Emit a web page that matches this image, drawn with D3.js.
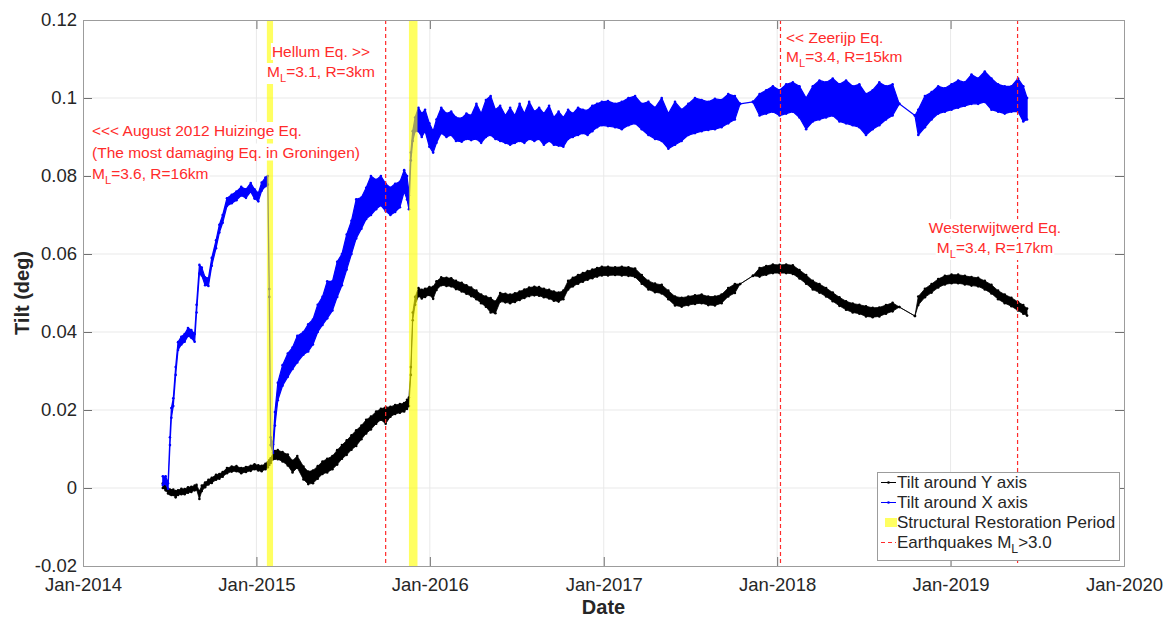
<!DOCTYPE html>
<html>
<head>
<meta charset="utf-8">
<script src="https://cdn.jsdelivr.net/npm/d3@7"></script>
<style>
  body { margin: 0; background: #fff; }
  svg { font-family: "Liberation Sans", Arial, Helvetica, sans-serif; }
</style>
</head>
<body>
<div id="chart"></div>
<script>
// ---- data (tilt in degrees) ----
// the sensor signal is noisy, so each sample keeps the low and high edge of the band
const sampleDates = [
  '2014-06-18','2014-06-24','2014-06-29','2014-07-03','2014-07-06','2014-07-10','2014-07-15','2014-07-20','2014-07-27','2014-08-03',
  '2014-08-10','2014-08-17','2014-08-24','2014-08-28','2014-09-03','2014-09-08','2014-09-15','2014-09-22','2014-09-29','2014-10-08',
  '2014-10-15','2014-10-22','2014-10-31','2014-11-10','2014-11-20','2014-11-30','2014-12-10','2014-12-20','2014-12-28','2015-01-05',
  '2015-01-12','2015-01-20','2015-01-25','2015-01-28','2015-01-31','2015-02-05','2015-02-09','2015-02-15','2015-02-25','2015-03-08',
  '2015-03-18','2015-03-28','2015-04-10','2015-04-20','2015-04-30','2015-05-10','2015-05-20','2015-05-30','2015-06-10','2015-06-20',
  '2015-06-30','2015-07-10','2015-07-20','2015-07-30','2015-08-10','2015-08-20','2015-08-30','2015-09-10','2015-09-20','2015-09-30',
  '2015-10-10','2015-10-20','2015-10-30','2015-11-08','2015-11-14','2015-11-18','2015-11-22','2015-11-26','2015-12-01','2015-12-08',
  '2015-12-15','2015-12-22','2015-12-31','2016-01-08','2016-01-15','2016-01-25','2016-02-05','2016-02-15','2016-02-25','2016-03-08',
  '2016-03-18','2016-03-28','2016-04-08','2016-04-18','2016-04-28','2016-05-08','2016-05-18','2016-05-28','2016-06-08','2016-06-18',
  '2016-06-28','2016-07-08','2016-07-18','2016-07-28','2016-08-08','2016-08-18','2016-08-28','2016-09-08','2016-09-18','2016-09-28',
  '2016-10-08','2016-10-18','2016-10-28','2016-11-08','2016-11-18','2016-11-28','2016-12-08','2016-12-18','2016-12-28','2017-01-10',
  '2017-01-25','2017-02-08','2017-02-22','2017-03-08','2017-03-22','2017-04-05','2017-04-19','2017-05-03','2017-05-17','2017-05-31',
  '2017-06-14','2017-06-28','2017-07-12','2017-07-26','2017-08-09','2017-08-23','2017-09-06','2017-09-20','2017-10-04','2017-10-15',
  '2017-11-11','2017-11-25','2017-12-09','2017-12-23','2018-01-06','2018-01-20','2018-02-03','2018-02-17','2018-03-03','2018-03-17',
  '2018-03-31','2018-04-14','2018-04-28','2018-05-12','2018-05-26','2018-06-09','2018-06-23','2018-07-07','2018-07-21','2018-08-04',
  '2018-08-18','2018-09-01','2018-09-15','2018-10-18','2018-10-25','2018-11-08','2018-11-22','2018-12-06','2018-12-20','2019-01-03',
  '2019-01-17','2019-01-31','2019-02-14','2019-02-28','2019-03-14','2019-03-28','2019-04-11','2019-04-25','2019-05-09','2019-05-23',
  '2019-06-03','2019-06-11'
];

// Tilt around X axis (blue)
const tiltXHigh = [
  .0030,.0030,.0012,.0130,.0205,.0230,.0310,.0374,.0388,.0395,
  .0410,.0405,.0395,.0470,.0572,.0565,.0540,.0538,.0590,.0635,
  .0675,.0700,.0743,.0752,.0760,.0772,.0766,.0782,.0766,.0756,
  .0783,.0796,.0800,.0510,.0130,.0112,.0195,.0270,.0315,.0345,
  .0360,.0390,.0400,.0420,.0432,.0470,.0490,.0530,.0530,.0580,
  .0600,.0650,.0685,.0740,.0745,.0770,.0800,.0790,.0800,.0780,
  .0770,.0780,.0785,.0815,.0800,.0750,.0860,.0915,.0950,.0975,
  .0960,.0970,.0935,.0915,.0945,.0975,.0960,.0965,.0950,.0948,
  .0960,.0955,.0985,.0960,.0995,.1005,.0970,.0980,.0955,.0975,
  .0955,.0985,.0960,.0990,.0965,.0975,.0960,.0980,.0950,.0965,
  .0950,.0970,.0960,.0975,.0970,.0968,.0980,.0985,.0990,.0992,
  .0985,.0990,.1000,.1005,.0985,.0990,.0975,.1000,.0960,.0990,
  .0970,.0985,.1000,.0995,.0990,.0998,.0995,.1010,.1005,.0985,
  .0990,.1010,.1020,.1030,.1020,.1035,.1040,.1030,.1000,.1030,
  .1045,.1040,.1050,.1035,.1045,.1030,.1035,.1010,.1020,.1040,
  .1030,.1035,.0985,.0955,.0970,.1005,.1015,.1030,.1025,.1035,
  .1045,.1040,.1060,.1050,.1068,.1050,.1035,.1030,.1030,.1050,
  .1030,.1000
];
const tiltXLow = [
  .0008,.0010,-.0002,.0110,.0180,.0210,.0290,.0354,.0368,.0375,
  .0390,.0385,.0375,.0450,.0550,.0545,.0520,.0518,.0570,.0615,
  .0655,.0680,.0723,.0730,.0738,.0750,.0744,.0760,.0742,.0735,
  .0762,.0774,.0778,.0490,.0110,.0090,.0160,.0225,.0262,.0285,
  .0305,.0322,.0342,.0350,.0368,.0400,.0418,.0435,.0455,.0490,
  .0520,.0560,.0600,.0640,.0665,.0690,.0700,.0715,.0725,.0710,
  .0700,.0708,.0720,.0760,.0740,.0715,.0840,.0890,.0915,.0915,
  .0900,.0915,.0875,.0860,.0885,.0910,.0900,.0905,.0890,.0888,
  .0895,.0892,.0895,.0885,.0900,.0905,.0895,.0890,.0885,.0880,
  .0885,.0890,.0885,.0895,.0890,.0895,.0880,.0890,.0880,.0878,
  .0875,.0895,.0900,.0905,.0910,.0905,.0915,.0925,.0930,.0928,
  .0925,.0920,.0930,.0935,.0920,.0905,.0895,.0890,.0870,.0880,
  .0890,.0905,.0910,.0915,.0918,.0920,.0925,.0935,.0945,.0985,
  .0990,.0955,.0960,.0965,.0955,.0960,.0965,.0950,.0920,.0940,
  .0945,.0950,.0955,.0940,.0935,.0930,.0925,.0905,.0920,.0930,
  .0945,.0955,.0985,.0955,.0905,.0925,.0945,.0960,.0965,.0970,
  .0975,.0980,.0985,.0985,.0990,.0970,.0965,.0960,.0965,.0965,
  .0940,.0945
];

// Tilt around Y axis (black)
const tiltYHigh = [
  .0012,.0006,-.0002,-.0004,-.0006,-.0004,-.0008,-.0006,-.0002,-.0003,
  .0002,.0003,.0006,.0008,-.0008,.0006,.0014,.0021,.0026,.0034,
  .0036,.0041,.0051,.0055,.0056,.0051,.0054,.0057,.0061,.0058,
  .0057,.0062,.0066,.0071,.0076,.0090,.0095,.0097,.0092,.0086,
  .0070,.0082,.0055,.0042,.0045,.0056,.0068,.0075,.0082,.0097,
  .0110,.0122,.0135,.0148,.0160,.0175,.0183,.0196,.0203,.0207,
  .0208,.0213,.0215,.0218,.0226,.0232,.0310,.0450,.0490,.0513,
  .0508,.0511,.0515,.0516,.0530,.0540,.0539,.0538,.0531,.0526,
  .0520,.0514,.0506,.0496,.0491,.0487,.0478,.0500,.0498,.0496,
  .0499,.0504,.0509,.0514,.0516,.0515,.0511,.0508,.0504,.0501,
  .0506,.0531,.0539,.0546,.0551,.0556,.0560,.0564,.0567,.0567,
  .0566,.0567,.0566,.0563,.0546,.0531,.0524,.0521,.0506,.0491,
  .0488,.0491,.0494,.0496,.0491,.0491,.0496,.0513,.0523,.0523,
  .0544,.0564,.0569,.0573,.0572,.0573,.0571,.0559,.0546,.0531,
  .0523,.0513,.0501,.0489,.0479,.0473,.0470,.0466,.0462,.0463,
  .0469,.0475,.0464,.0441,.0491,.0511,.0523,.0536,.0544,.0547,
  .0547,.0544,.0541,.0539,.0531,.0521,.0506,.0496,.0488,.0477,
  .0469,.0460
];
const tiltYLow = [
  .0000,-.0006,-.0014,-.0016,-.0018,-.0018,-.0024,-.0018,-.0016,-.0016,
  -.0012,-.0010,-.0006,-.0004,-.0028,-.0008,.0002,.0009,.0013,.0021,
  .0024,.0029,.0038,.0042,.0043,.0038,.0041,.0044,.0048,.0045,
  .0043,.0048,.0053,.0059,.0064,.0074,.0075,.0074,.0068,.0058,
  .0040,.0052,.0022,.0010,.0012,.0024,.0036,.0040,.0048,.0060,
  .0075,.0085,.0098,.0108,.0125,.0140,.0150,.0165,.0175,.0165,
  .0183,.0190,.0193,.0196,.0203,.0210,.0290,.0430,.0470,.0492,
  .0486,.0490,.0495,.0485,.0508,.0520,.0518,.0517,.0510,.0504,
  .0498,.0492,.0484,.0474,.0465,.0450,.0448,.0478,.0476,.0474,
  .0477,.0482,.0487,.0492,.0494,.0493,.0489,.0486,.0480,.0478,
  .0484,.0509,.0517,.0524,.0529,.0534,.0538,.0542,.0545,.0545,
  .0546,.0545,.0544,.0541,.0524,.0509,.0502,.0499,.0484,.0468,
  .0465,.0469,.0472,.0474,.0469,.0468,.0474,.0491,.0500,.0523,
  .0544,.0542,.0547,.0551,.0551,.0551,.0549,.0537,.0524,.0509,
  .0501,.0491,.0479,.0467,.0457,.0450,.0447,.0440,.0438,.0440,
  .0447,.0453,.0464,.0441,.0469,.0489,.0501,.0514,.0522,.0525,
  .0525,.0522,.0519,.0517,.0509,.0499,.0484,.0474,.0466,.0455,
  .0447,.0442
];

const restorationStarts = ['2015-01-23', '2015-11-18'];
const restorationEnds = ['2015-02-05', '2015-12-06'];
const earthquakeDates = ['2015-09-30', '2018-01-08', '2019-05-22'];

const xTickDates = ['2014-01-01','2015-01-01','2016-01-01','2017-01-01','2018-01-01','2019-01-01','2020-01-01'];
const yTicks = [-0.02, 0, 0.02, 0.04, 0.06, 0.08, 0.1, 0.12];

const annotationTexts = [
  ['<<< August 2012 Huizinge Eq.', '(The most damaging Eq. in Groningen)', 'M_L=3.6, R=16km'],
  ['Hellum Eq. >>', 'M_L=3.1, R=3km'],
  ['<< Zeerijp Eq.', 'M_L=3.4, R=15km'],
  ['Westerwijtwerd Eq.', 'M_L=3.4, R=17km']
];
const legendLabels = ['Tilt around Y axis', 'Tilt around X axis', 'Structural Restoration Period', 'Earthquakes M_L>3.0'];

// ---- drawing ----
const width = 1168, height = 617;
const margin = {top: 20, right: 44, bottom: 51, left: 83};
const innerW = width - margin.left - margin.right;
const innerH = height - margin.top - margin.bottom;

const boxColor = '#9c9c9c', tickColor = '#707070', textColor = '#262626';
const redColor = '#ff2b2b';

const parseDate = d3.utcParse('%Y-%m-%d');
const samples = sampleDates.map((d, i) => ({
  date: parseDate(d),
  xLow: tiltXLow[i], xHigh: tiltXHigh[i],
  yLow: tiltYLow[i], yHigh: tiltYHigh[i]
}));
const xTicks = xTickDates.map(parseDate);

const svg = d3.select('#chart').append('svg')
  .attr('width', width)
  .attr('height', height);

const chart = svg.append('g')
  .attr('transform', `translate(${margin.left},${margin.top})`);

const x = d3.scaleUtc()
  .domain([xTicks[0], xTicks[xTicks.length - 1]])
  .range([0, innerW]);
const y = d3.scaleLinear()
  .domain([yTicks[0], yTicks[yTicks.length - 1]])
  .range([innerH, 0]);

// grid
chart.append('g').selectAll('line')
  .data(xTicks.slice(1, -1))
  .join('line')
  .attr('x1', d => x(d)).attr('x2', d => x(d))
  .attr('y1', 0).attr('y2', innerH)
  .attr('stroke', '#e9e9e9');
chart.append('g').selectAll('line')
  .data(yTicks.slice(1, -1))
  .join('line')
  .attr('x1', 0).attr('x2', innerW)
  .attr('y1', d => y(d)).attr('y2', d => y(d))
  .attr('stroke', '#e9e9e9');

// series bands, with the '.-' markers on the band edges
function drawBand(lowKey, highKey, color, strokeW) {
  const band = d3.area()
    .x(d => x(d.date))
    .y0(d => y(d[lowKey]))
    .y1(d => y(d[highKey]));
  const g = chart.append('g');
  g.append('path')
    .datum(samples)
    .attr('d', band)
    .attr('fill', color)
    .attr('stroke', color)
    .attr('stroke-width', strokeW)
    .attr('stroke-linejoin', 'round');
  g.selectAll('circle')
    .data(samples.flatMap(d => [[d.date, d[lowKey]], [d.date, d[highKey]]]))
    .join('circle')
    .attr('cx', d => x(d[0]))
    .attr('cy', d => y(d[1]))
    .attr('r', 1.3)
    .attr('fill', color);
}
drawBand('yLow', 'yHigh', '#000', 0.8);
drawBand('xLow', 'xHigh', '#0000ff', 1.2);

// restoration periods, semi transparent on top of the lines
chart.append('g').selectAll('rect')
  .data(restorationStarts.map((s, i) => [parseDate(s), parseDate(restorationEnds[i])]))
  .join('rect')
  .attr('x', d => x(d[0]))
  .attr('width', d => x(d[1]) - x(d[0]))
  .attr('y', 0)
  .attr('height', innerH)
  .attr('fill', '#ffff00')
  .attr('opacity', 0.62);

// earthquakes
chart.append('g').selectAll('line')
  .data(earthquakeDates.map(parseDate))
  .join('line')
  .attr('x1', d => x(d)).attr('x2', d => x(d))
  .attr('y1', 0).attr('y2', innerH)
  .attr('stroke', redColor)
  .attr('stroke-width', 1.2)
  .attr('stroke-dasharray', '4 3');

// text with an M_L subscript
function writeLine(g, str, px, py, anchor, size, color) {
  const t = g.append('text')
    .attr('x', px).attr('y', py)
    .attr('text-anchor', anchor)
    .attr('font-size', size)
    .attr('fill', color);
  const parts = str.split('_L');
  t.append('tspan').text(parts[0]);
  if (parts.length > 1) {
    t.append('tspan').attr('dy', 5).attr('font-size', size * 0.72).text('L');
    t.append('tspan').attr('dy', -5).text(parts[1]);
  }
  return t;
}

// annotations, each line on a white background
const annoLayout = [
  {x: 92, y: 136, anchor: 'start', step: 21.5},
  {x: 321, y: 57, anchor: 'middle', step: 20},
  {x: 786, y: 43, anchor: 'start', step: 18.5},
  {x: 995, y: 233, anchor: 'middle', step: 20}
];
const annoGroup = svg.append('g');
annotationTexts.forEach((lines, i) => {
  const L = annoLayout[i];
  lines.forEach((line, j) => {
    const t = writeLine(annoGroup, line, L.x, L.y + j * L.step, L.anchor, 15.5, redColor);
    const bb = t.node().getBBox();
    annoGroup.insert('rect', () => t.node())
      .attr('x', bb.x - 1).attr('y', bb.y)
      .attr('width', bb.width + 2).attr('height', bb.height)
      .attr('fill', '#fff');
  });
});

// axes: MATLAB style box with inward ticks
const styleAxis = g => {
  g.select('.domain').remove();
  g.selectAll('line').attr('stroke', tickColor);
  g.attr('font-family', null).attr('font-size', 18.5);
  g.selectAll('text').attr('fill', textColor);
};

chart.append('g')
  .attr('transform', `translate(0,${innerH})`)
  .call(d3.axisBottom(x).tickValues(xTicks).tickFormat(d3.utcFormat('%b-%Y'))
    .tickSizeInner(-9).tickSizeOuter(0).tickPadding(12))
  .call(styleAxis);
chart.append('g')
  .call(d3.axisTop(x).tickValues(xTicks).tickFormat('')
    .tickSizeInner(-9).tickSizeOuter(0))
  .call(styleAxis);
chart.append('g')
  .call(d3.axisLeft(y).tickValues(yTicks).tickFormat(d => String(+d.toFixed(2)))
    .tickSizeInner(-9).tickSizeOuter(0).tickPadding(6))
  .call(styleAxis)
  .call(g => g.selectAll('text').attr('dy', '0.28em'));
chart.append('g')
  .attr('transform', `translate(${innerW},0)`)
  .call(d3.axisRight(y).tickValues(yTicks).tickFormat('')
    .tickSizeInner(-9).tickSizeOuter(0))
  .call(styleAxis);

chart.append('rect')
  .attr('width', innerW)
  .attr('height', innerH)
  .attr('fill', 'none')
  .attr('stroke', boxColor)
  .attr('shape-rendering', 'crispEdges');

// axis titles
svg.append('text')
  .attr('x', margin.left + innerW / 2)
  .attr('y', 614)
  .attr('text-anchor', 'middle')
  .attr('font-size', 20)
  .attr('font-weight', 'bold')
  .attr('fill', textColor)
  .text('Date');
svg.append('text')
  .attr('transform', `translate(29,${margin.top + innerH / 2}) rotate(-90)`)
  .attr('text-anchor', 'middle')
  .attr('font-size', 20)
  .attr('font-weight', 'bold')
  .attr('fill', textColor)
  .text('Tilt (deg)');

// legend
const legend = svg.append('g').attr('transform', 'translate(877,472)');
legend.append('rect')
  .attr('width', 242)
  .attr('height', 88)
  .attr('fill', '#fff')
  .attr('stroke', boxColor)
  .attr('shape-rendering', 'crispEdges');

legendLabels.forEach((label, i) => {
  const base = 16 + i * 20;
  const mid = base - 5.5;
  if (i < 2) {
    const c = i === 0 ? '#000' : '#0000ff';
    legend.append('line')
      .attr('x1', 4).attr('x2', 19)
      .attr('y1', mid).attr('y2', mid)
      .attr('stroke', c).attr('stroke-width', 1);
    legend.append('circle')
      .attr('cx', 11.5).attr('cy', mid).attr('r', 1.3)
      .attr('fill', c);
  } else if (i === 2) {
    legend.append('rect')
      .attr('x', 8).attr('y', mid - 4.5)
      .attr('width', 12).attr('height', 9)
      .attr('fill', '#ffff00').attr('opacity', 0.62);
  } else {
    legend.append('line')
      .attr('x1', 4).attr('x2', 19)
      .attr('y1', mid).attr('y2', mid)
      .attr('stroke', redColor).attr('stroke-width', 1.2)
      .attr('stroke-dasharray', '4 3');
  }
  writeLine(legend, label, 20, base, 'start', 17, textColor);
});
</script>
</body>
</html>
